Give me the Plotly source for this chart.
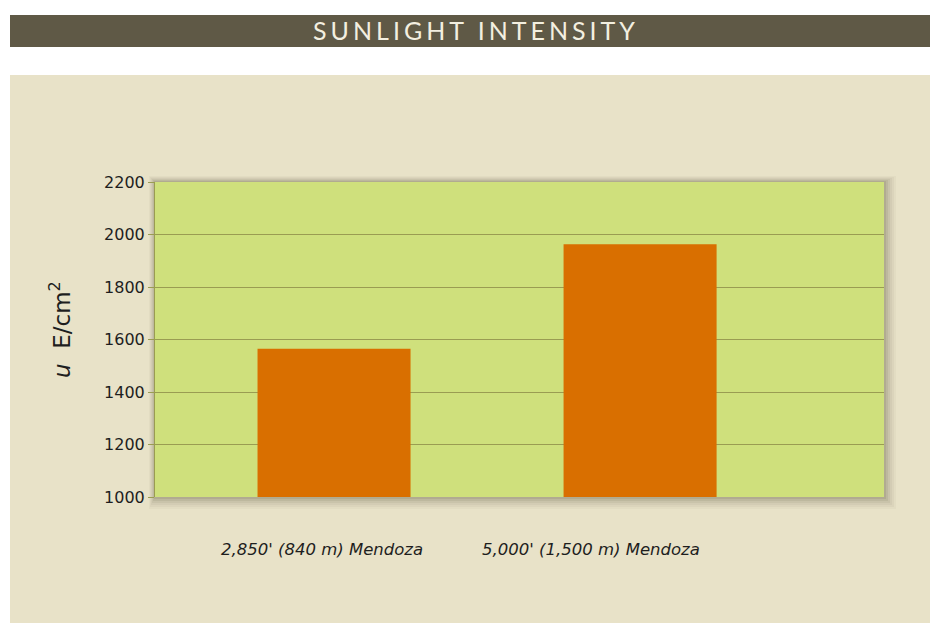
import plotly.graph_objects as go

categories = ["2,850' (840 m) Mendoza", "5,000' (1,500 m) Mendoza"]
values = [1565, 1963]
y_ticks = [1000, 1200, 1400, 1600, 1800, 2000, 2200]
title_text = "SUNLIGHT INTENSITY"

W, H = 930, 623
L, R, T, B = 155, 46, 182, 126
pw, ph = W - L - R, H - T - B

def px(x):
    return (x - L) / pw

def py(y):
    return (H - B - y) / ph

xs = list(range(len(categories)))

fig = go.Figure()
fig.add_trace(go.Bar(
    x=xs, y=[v - 1000 for v in values], base=1000,
    width=0.5, marker=dict(color="#d96f00", line=dict(width=0)),
    hoverinfo="skip",
))

shapes = []
# title bar
shapes.append(dict(type="rect", xref="paper", yref="paper", x0=px(10), x1=px(935), y0=py(47), y1=py(15),
                   fillcolor="#5f5946", line=dict(width=0), layer="below"))
# beige panel
shapes.append(dict(type="rect", xref="paper", yref="paper", x0=px(10), x1=px(935), y0=py(630), y1=py(75),
                   fillcolor="#e8e2c8", line=dict(width=0), layer="below"))
# soft shadow around plot area
for i, op in enumerate([0.04, 0.05, 0.06, 0.08, 0.1, 0.12]):
    d = 12 - 2 * i
    shapes.append(dict(type="rect", xref="paper", yref="paper",
                       x0=px(155 - d * 0.5), x1=px(884 + d), y0=py(497 + d), y1=py(182 - d * 0.5),
                       fillcolor=f"rgba(90,85,60,{op})", line=dict(width=0), layer="below"))
# plot area fill
shapes.append(dict(type="rect", xref="paper", yref="paper", x0=0, x1=1, y0=0, y1=1,
                   fillcolor="#cfe07c", line=dict(width=0), layer="below"))

annotations = [
    dict(text=f'<span style="letter-spacing:4px">{title_text}</span>', xref="paper", yref="paper",
         x=px(476), y=py(30), showarrow=False,
         font=dict(family="Lato", size=25, color="#f3efe0"), xanchor="center", yanchor="middle"),
]
label_offsets = [-0.04, -0.16]
for i, c in enumerate(categories):
    annotations.append(dict(text=f"<i>{c}</i>", xref="x", yref="paper", x=xs[i] + label_offsets[i], y=py(549),
                            showarrow=False, xanchor="center", yanchor="middle",
                            font=dict(family="DejaVu Sans", size=16.5, color="#1e1e1e")))
annotations.append(dict(text="<i>u</i>&nbsp;&nbsp;E/cm<sup>2</sup>", xref="paper", yref="paper", x=px(60), y=py(330),
                        showarrow=False, textangle=-90, xanchor="center", yanchor="middle",
                        font=dict(family="DejaVu Sans", size=23, color="#1e1e1e")))

fig.update_layout(
    width=W, height=H,
    margin=dict(l=L, r=R, t=T, b=B),
    paper_bgcolor="white", plot_bgcolor="rgba(0,0,0,0)",
    showlegend=False,
    shapes=shapes, annotations=annotations,
)
fig.update_xaxes(range=[-0.585, 1.797], showticklabels=False, showgrid=False, zeroline=False,
                 showline=False, ticks="")
fig.update_yaxes(range=[1000, 2200], tickvals=y_ticks, showgrid=True, gridcolor="#9a9c52", gridwidth=1,
                 zeroline=False, showline=True, linecolor="#9a9c52", linewidth=1,
                 ticks="outside", ticklen=6, tickcolor="#9a9c52",
                 tickfont=dict(family="DejaVu Sans", size=16, color="#1e1e1e"))

fig.write_html("out.html", config={"displayModeBar": False},
               post_script="document.body.style.margin='0';document.body.style.padding='0';")
